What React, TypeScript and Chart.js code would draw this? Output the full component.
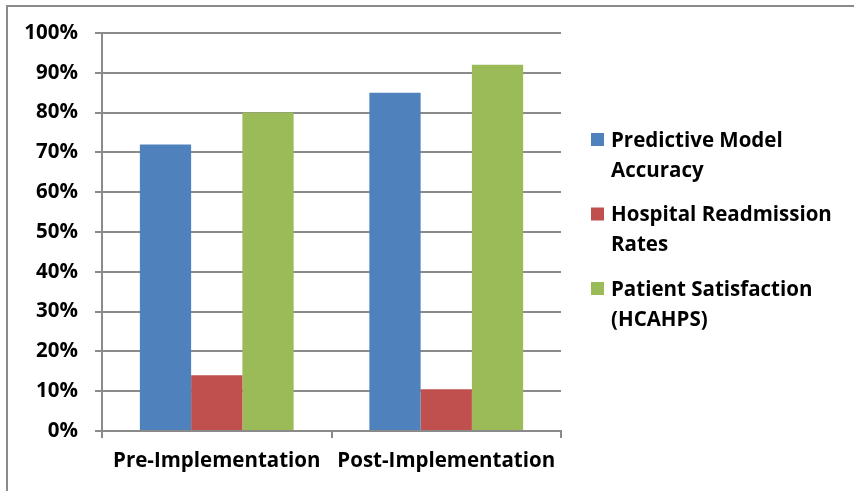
import React, { useEffect, useRef } from "react";
import { Chart, registerables } from "chart.js";

Chart.register(...registerables);

const categories = ["Pre-Implementation", "Post-Implementation"];
const seriesNames = [
  "Predictive Model Accuracy",
  "Hospital Readmission Rates",
  "Patient Satisfaction (HCAHPS)",
];
const predictiveAccuracy = [72, 85];
const readmissionRates = [14, 10.5];
const patientSatisfaction = [80, 92];
const seriesColors = ["#4F81BD", "#C0504D", "#9BBB59"];
const yTicks = [0, 10, 20, 30, 40, 50, 60, 70, 80, 90, 100];

const FONT = "'Open Sans', sans-serif";
const FS = 20.5;
const GRID = "#8a8a8a";

const legendPlugin = {
  id: "customLegend",
  afterDraw(chart: any) {
    const ctx = chart.ctx as CanvasRenderingContext2D;
    ctx.save();
    ctx.font = `bold ${FS}px ${FONT}`;
    ctx.fillStyle = "#000";
    ctx.textBaseline = "middle";
    ctx.textAlign = "left";
    const x0 = 591;
    const y0 = 141;
    const maxW = 238;
    chart.data.datasets.forEach((ds: any, i: number) => {
      const words = String(ds.label).split(" ");
      const lines: string[] = [];
      let cur = "";
      words.forEach((w) => {
        const t = cur ? cur + " " + w : w;
        if (cur && ctx.measureText(t).width > maxW) {
          lines.push(cur);
          cur = w;
        } else cur = t;
      });
      if (cur) lines.push(cur);
      const yb = y0 + i * 74.5;
      ctx.fillStyle = ds.backgroundColor;
      ctx.fillRect(x0, yb - 8, 13, 13);
      ctx.fillStyle = "#000";
      lines.forEach((ln, j) => ctx.fillText(ln, x0 + 20, yb + j * 30));
    });
    ctx.restore();
  },
};

export default function App() {
  const ref = useRef<HTMLCanvasElement>(null);
  useEffect(() => {
    if (!ref.current) return;
    const chart = new Chart(ref.current, {
      type: "bar",
      data: {
        labels: categories,
        datasets: [predictiveAccuracy, readmissionRates, patientSatisfaction].map((d, i) => ({
          label: seriesNames[i],
          data: d,
          backgroundColor: seriesColors[i],
          borderWidth: 0,
          categoryPercentage: 0.67,
          barPercentage: 1,
        })),
      },
      options: {
        responsive: false,
        animation: false,
        layout: { padding: { top: 33, right: 293, bottom: 0, left: 0 } },
        plugins: { legend: { display: false }, tooltip: { enabled: false } },
        scales: {
          x: {
            grid: {
              drawOnChartArea: false,
              drawTicks: true,
              tickLength: 7,
              color: GRID,
              lineWidth: 2,
              offset: true,
            },
            border: { display: true, color: GRID, width: 2 },
            ticks: {
              color: "#000",
              font: { family: FONT, size: FS, weight: "bold" },
              padding: 11,
            },
            afterFit: (s: any) => {
              s.height = 60;
            },
          },
          y: {
            min: 0,
            max: 100,
            afterBuildTicks: (s: any) => {
              s.ticks = yTicks.map((v) => ({ value: v }));
            },
            grid: { color: GRID, lineWidth: 2, tickLength: 7 },
            border: { display: true, color: GRID, width: 2 },
            ticks: {
              color: "#000",
              font: { family: FONT, size: FS, weight: "bold" },
              padding: 17,
              callback: (v: any) => v + "%",
            },
            afterFit: (s: any) => {
              s.width = 102;
            },
          },
        },
      },
      plugins: [legendPlugin],
    });
    return () => chart.destroy();
  }, []);
  return (
    <div>
      <div
        style={{
          position: "fixed",
          left: 6,
          top: 5,
          width: 900,
          height: 600,
          borderLeft: "2px solid #8a8a8a",
          borderTop: "2px solid #8a8a8a",
          background: "#fff",
        }}
      />
      <canvas
        ref={ref}
        width={854}
        height={491}
        style={{ position: "fixed", left: 0, top: 0, width: 854, height: 491 }}
      />
    </div>
  );
}
